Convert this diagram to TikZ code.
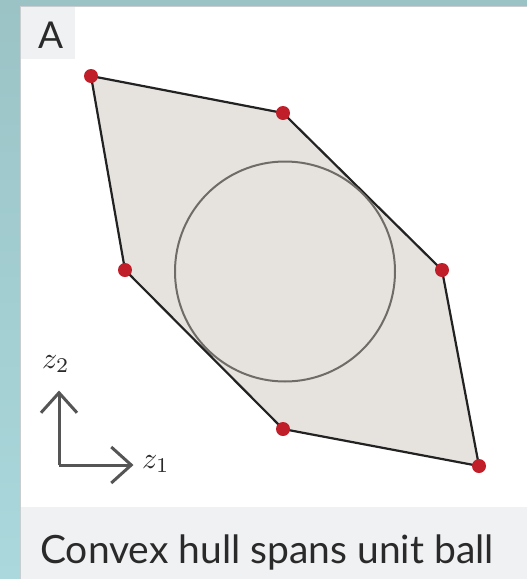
\documentclass[tikz,border=0pt]{standalone}
\usepackage{fontspec}
\newfontfamily\lato{Lato}
\usetikzlibrary{arrows.meta}
\definecolor{tealA}{HTML}{9BC3C6}
\definecolor{tealB}{HTML}{AAD8DC}
\definecolor{panelgray}{HTML}{F0F1F3}
\definecolor{edgegray}{HTML}{C9CDCF}
\definecolor{hullfill}{HTML}{E6E3DF}
\definecolor{hulledge}{HTML}{222222}
\definecolor{ballc}{HTML}{6F6B66}
\definecolor{dotred}{HTML}{C01F2A}
\definecolor{axisc}{HTML}{555555}
\definecolor{textc}{HTML}{2A2A2A}
\tikzset{
  vdot/.style={circle, fill=dotred, inner sep=0pt, minimum size=14pt},
  hulledgestyle/.style={draw=hulledge, line width=2.2pt, line join=round},
  ballstyle/.style={circle, draw=ballc, line width=2pt, minimum size=220pt, inner sep=0pt},
  axisstyle/.style={draw=axisc, line width=3pt, -{Straight Barb[length=20pt, width=36pt, line width=3pt]}},
  axlabel/.style={text=textc, inner sep=0pt, anchor=base west},
  sanslabel/.style={text=textc, inner sep=0pt, anchor=base west},
}
\begin{document}
\begin{tikzpicture}[x=1pt, y=-1pt]
\useasboundingbox (0,0) rectangle (527,579);
\shade[top color=tealA, bottom color=tealB] (0,0) rectangle (527,579);
\fill[white] (21,6) rectangle (527,579);
\fill[panelgray] (21,6) rectangle (75,59);
\fill[panelgray] (21,507) rectangle (527,579);
\draw[edgegray, line width=1.2pt] (20.6,579) -- (20.6,6.6) -- (527,6.6);

\node[sanslabel, font=\lato\fontsize{37}{40}\selectfont] (lab) at (38,48) {A};

\coordinate (p1) at (91,76);
\coordinate (p2) at (283,113);
\coordinate (p3) at (442,270);
\coordinate (p4) at (479,466);
\coordinate (p5) at (283,429);
\coordinate (p6) at (125,270);
\path[fill=hullfill, hulledgestyle] (p1) -- (p2) -- (p3) -- (p4) -- (p5) -- (p6) -- cycle;
\node[ballstyle] (ball) at (285,271.5) {};
\foreach \i in {1,...,6} { \node[vdot] (d\i) at (p\i) {}; }

\coordinate (o) at (59,465);
\coordinate (ya) at (59,390.5);
\coordinate (xa) at (133.5,465);
\draw[axisstyle] (o) -- (ya);
\draw[axisstyle] (o) -- (xa);
\node[axlabel] (z2) at (42,368) {\scalebox{3}{$z_2$}};
\node[axlabel] (z1) at (142,468) {\scalebox{3}{$z_1$}};

\node[sanslabel, font=\lato\fontsize{39}{42}\selectfont] (cap) at (40,563) {Convex hull spans unit ball};
\end{tikzpicture}
\end{document}
